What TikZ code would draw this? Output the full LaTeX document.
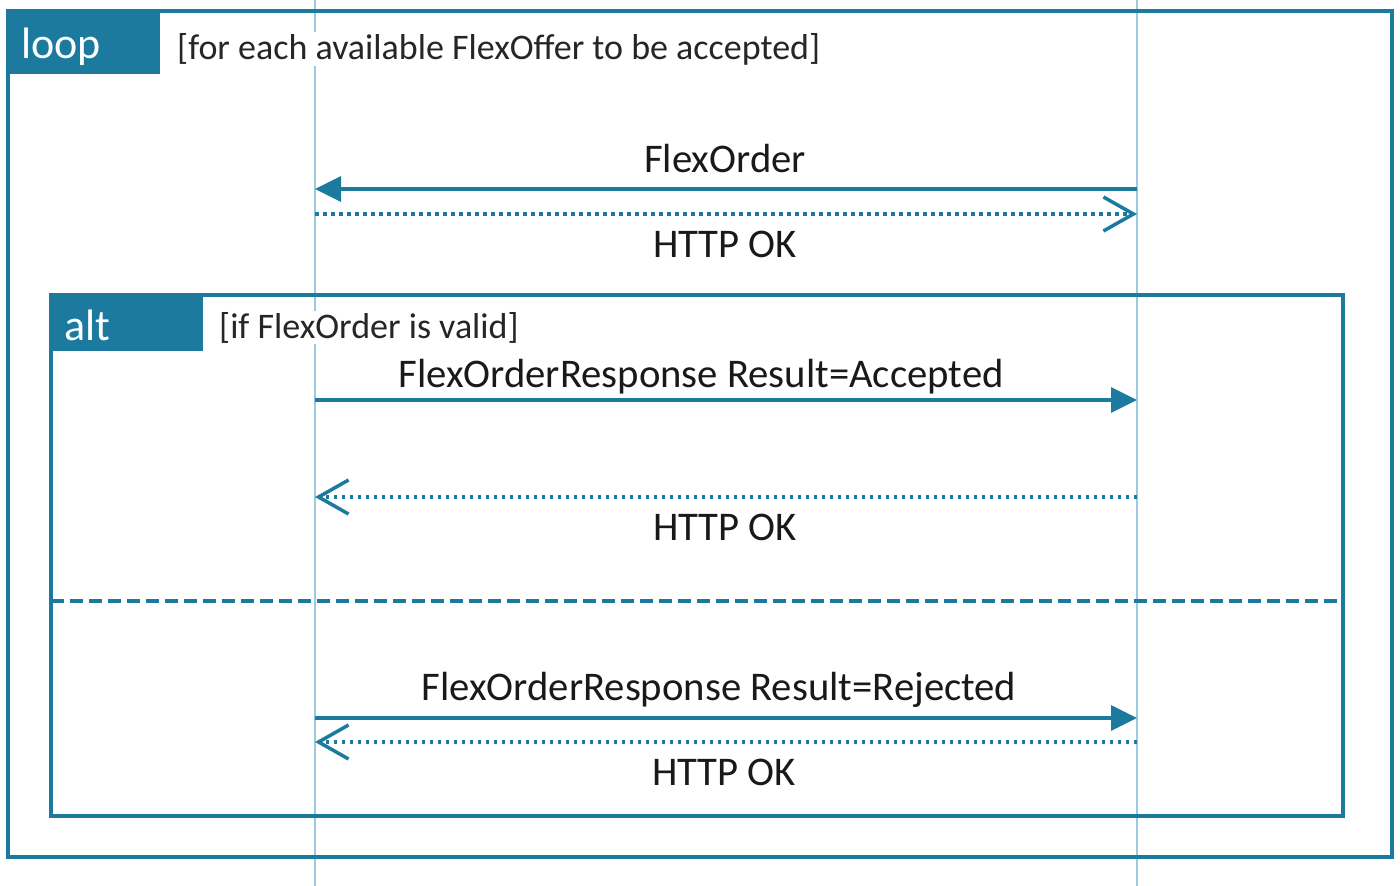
\documentclass[tikz,border=0pt]{standalone}
\usepackage{fontspec}
\setmainfont{Carlito}
\usetikzlibrary{arrows.meta}
\definecolor{frame}{HTML}{1B7A9E}
\definecolor{life}{HTML}{9CCBE0}
\tikzset{
  frm/.style={draw=frame, line width=3.5pt},
  tabtxt/.style={text=white, anchor=base west, inner sep=0pt, font=\fontsize{44}{50}\selectfont},
  guard/.style={anchor=base west, fill=white, inner sep=1pt, text=black!85, font=\fontsize{36}{42}\selectfont},
  msgtxt/.style={anchor=base, inner sep=0pt, text=black!90, font=\fontsize{40.7}{46}\selectfont},
  lifeline/.style={draw=life, line width=1.3pt},
  sync/.style={draw=frame, line width=3.5pt, -{Triangle[length=26pt,width=25pt]}},
  reply/.style={draw=frame, line width=3.5pt, dash pattern=on 3.5pt off 4.5pt, -{Straight Barb[length=30pt,width=34pt,line width=3.5pt]}},
  sep/.style={draw=frame, line width=3.5pt, dash pattern=on 13pt off 6pt}
}
\begin{document}
\begin{tikzpicture}[x=1pt,y=-1pt]
\useasboundingbox (0,0) rectangle (1400,886);
% lifelines
\coordinate (A0) at (315,0); \coordinate (A1) at (315,886);
\coordinate (B0) at (1137,0); \coordinate (B1) at (1137,886);
\draw[lifeline] (A0) -- (A1);
\draw[lifeline] (B0) -- (B1);
% loop frame
\draw[frm] (8,11) rectangle (1392,857);
\fill[frame] (8,11) rectangle (160,74);
\node[tabtxt] (looplbl) at (21,58) {loop};
\node[guard] (loopguard) at (176,59) {[for each available FlexOffer to be accepted]};
% messages 1
\coordinate (m1a) at (315,189); \coordinate (m1b) at (1137,189);
\draw[sync] (m1b) -- (m1a);
\node[msgtxt] (t1) at (725,172) {FlexOrder};
\coordinate (m2a) at (315,214); \coordinate (m2b) at (1137,214);
\draw[reply] (m2a) -- (m2b);
\node[msgtxt] (t2) at (725,257) {HTTP OK};
% alt frame
\draw[frm] (51,295) rectangle (1343,816);
\fill[frame] (51,295) rectangle (203,351);
\node[tabtxt] (altlbl) at (64,340) {alt};
\node[guard] (altguard) at (218,338) {[if FlexOrder is valid]};
\coordinate (m3a) at (315,400); \coordinate (m3b) at (1137,400);
\draw[sync] (m3a) -- (m3b);
\node[msgtxt] (t3) at (701,387) {FlexOrderResponse Result=Accepted};
\coordinate (m4a) at (315,497); \coordinate (m4b) at (1137,497);
\draw[reply] (m4b) -- (m4a);
\node[msgtxt] (t4) at (725,540) {HTTP OK};
% separator
\coordinate (s1) at (51,601); \coordinate (s2) at (1343,601);
\draw[sep] (s1) -- (s2);
\coordinate (m5a) at (315,718); \coordinate (m5b) at (1137,718);
\draw[sync] (m5a) -- (m5b);
\node[msgtxt] (t5) at (719,700) {FlexOrderResponse Result=Rejected};
\coordinate (m6a) at (315,742); \coordinate (m6b) at (1137,742);
\draw[reply] (m6b) -- (m6a);
\node[msgtxt] (t6) at (724,785) {HTTP OK};
\end{tikzpicture}
\end{document}
